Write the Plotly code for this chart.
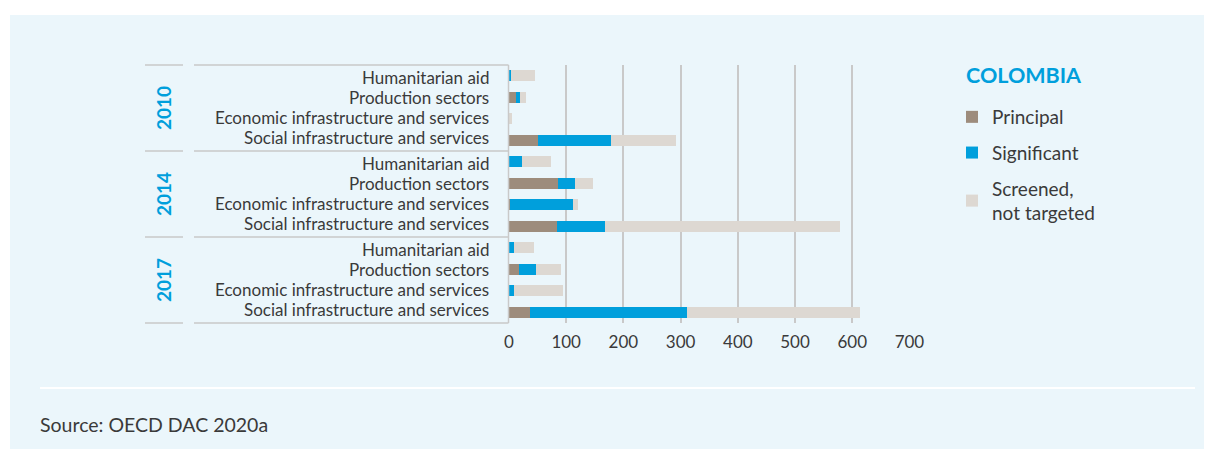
import plotly.graph_objects as go

# page body has an 8px margin, so the figure is drawn 8px smaller and offset
OFF = 8
W, H = 1212 - OFF, 449 - OFF

years = ["2010", "2014", "2017"]
sectors = ["Humanitarian aid", "Production sectors",
           "Economic infrastructure and services", "Social infrastructure and services"]

# values per year, sector order as above (USD million)
principal_2010 = [0, 12, 0, 50]
significant_2010 = [3, 7, 0, 128]
screened_2010 = [42, 10, 5, 114]

principal_2014 = [0, 85, 1, 84]
significant_2014 = [22, 30, 111, 84]
screened_2014 = [51, 32, 9, 410]

principal_2017 = [0, 17, 0, 36]
significant_2017 = [8, 30, 8, 275]
screened_2017 = [35, 44, 86, 303]

x_ticks = [0, 100, 200, 300, 400, 500, 600, 700]

principal = principal_2010 + principal_2014 + principal_2017
significant = significant_2010 + significant_2014 + significant_2017
screened = screened_2010 + screened_2014 + screened_2017
rows = list(range(len(principal)))
row_labels = sectors * len(years)

C_PRIN = "#9d8c7c"
C_SIG = "#009fdc"
C_SCR = "#ddd8d2"
C_BG = "#ebf6fb"
C_GRID = "#c9c9c9"
C_TXT = "#3a3a3a"

# plot area in reference-screen pixels
L, R, T, B = 509, 910, 65, 323
ml, mr, mt, mb = L - OFF, (W + OFF) - R, T - OFF, (H + OFF) - B


def px(x):
    return (x - L) / (R - L)


def py(y):
    return (B - y) / (B - T)


fig = go.Figure()
for name, vals, col in [("Principal", principal, C_PRIN),
                        ("Significant", significant, C_SIG),
                        ("Screened,<br>not targeted", screened, C_SCR)]:
    fig.add_trace(go.Bar(x=vals, y=rows, orientation="h", name=name,
                         marker=dict(color=col, line=dict(width=0)),
                         legendgroup=name, width=0.52))

shapes = []
# background panel
shapes.append(dict(type="rect", xref="paper", yref="paper", x0=px(10), x1=px(1220),
                   y0=py(460), y1=py(15), fillcolor=C_BG, line=dict(width=0), layer="below"))
# white separator line
shapes.append(dict(type="line", xref="paper", yref="paper", x0=px(40), x1=px(1195),
                   y0=py(388), y1=py(388), line=dict(color="white", width=2)))
# group box lines
for yy in [65, 151, 237, 323]:
    shapes.append(dict(type="line", xref="paper", yref="paper", x0=px(145), x1=px(183),
                       y0=py(yy), y1=py(yy), line=dict(color=C_GRID, width=1.5)))
    shapes.append(dict(type="line", xref="paper", yref="paper", x0=px(194), x1=px(508.5),
                       y0=py(yy), y1=py(yy), line=dict(color=C_GRID, width=1.5)))
shapes.append(dict(type="line", xref="paper", yref="paper", x0=px(508.5), x1=px(508.5),
                   y0=py(65), y1=py(323), line=dict(color=C_GRID, width=1.5)))

annotations = []
for r, lab in zip(rows, row_labels):
    k = r % len(sectors)
    annotations.append(dict(x=0, y=r, xref="x", yref="y", text=lab, showarrow=False,
                            xanchor="right", yanchor="middle", xshift=-18, yshift=-2 + 1.7 * k,
                            font=dict(size=17, color=C_TXT)))
for i, yr in enumerate(years):
    yc = 65 + (i + 0.5) * 86
    annotations.append(dict(x=px(163), y=py(yc), xref="paper", yref="paper", text="<b>%s</b>" % yr,
                            showarrow=False, textangle=-90, xanchor="center", yanchor="middle",
                            font=dict(size=19, color=C_SIG)))
annotations.append(dict(x=px(964), y=py(75), xref="paper", yref="paper",
                        text="<b>COLOMBIA</b>", showarrow=False, xanchor="left",
                        yanchor="middle", font=dict(size=21.5, color=C_SIG)))
annotations.append(dict(x=px(38), y=py(424), xref="paper", yref="paper",
                        text="Source: OECD DAC 2020a", showarrow=False, xanchor="left",
                        yanchor="middle", font=dict(size=19.5, color=C_TXT)))

fig.update_layout(
    width=W, height=H,
    margin=dict(l=ml, r=mr, t=mt, b=mb, pad=0),
    paper_bgcolor="white", plot_bgcolor="rgba(0,0,0,0)",
    barmode="stack", bargap=0.48,
    font=dict(family="Lato", color=C_TXT),
    shapes=shapes, annotations=annotations,
    showlegend=True,
    legend=dict(x=px(952), y=py(98), xanchor="left", yanchor="top",
                xref="paper", yref="paper", bgcolor="rgba(0,0,0,0)",
                font=dict(size=19, color=C_TXT), tracegroupgap=8, traceorder="grouped",
                itemsizing="constant"),
    xaxis=dict(range=[0, 701], tickvals=x_ticks, showgrid=True, gridcolor=C_GRID, gridwidth=1.5,
               zeroline=False, showline=False, ticks="outside", ticklen=4, tickcolor="rgba(0,0,0,0)",
               tickfont=dict(size=17, color=C_TXT), fixedrange=True),
    yaxis=dict(range=[11.5, -0.5], showticklabels=False, showgrid=False, zeroline=False,
               fixedrange=True),
)

fig.write_html("out.html")
